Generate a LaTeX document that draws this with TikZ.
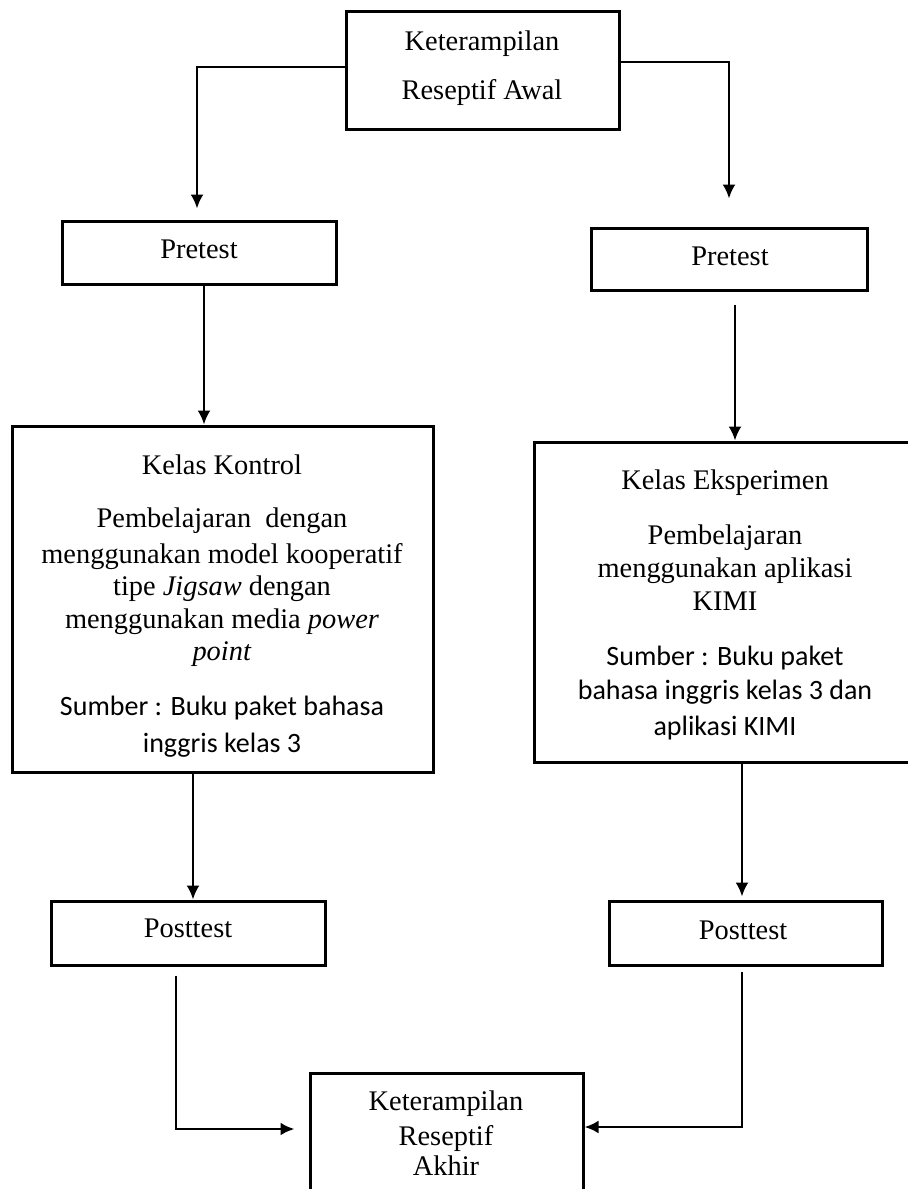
\documentclass[tikz,border=0pt]{standalone}
\usepackage{fontspec}
\setmainfont{Liberation Serif}
\newfontfamily\calibrifont{Carlito}
\usetikzlibrary{arrows.meta}

\tikzset{
  box/.style={draw, line width=1.5pt, inner sep=0pt},
  txt/.style={inner sep=0pt, text height=10pt, text depth=3pt, font=\fontsize{14.2}{17}\selectfont},
  src/.style={txt, font=\calibrifont\fontsize{14}{17}\selectfont},
  arr/.style={-{Latex[length=7pt,width=6.5pt]}, line width=1.2pt},
  arrb/.style={arr, line width=1.4pt},
}

\begin{document}
\begin{tikzpicture}[x=0.5pt, y=-0.5pt]
  \useasboundingbox (0,0) rectangle (907,1189);

  % Top box
  \node[box, minimum width=136.5pt, minimum height=59pt] (awal) at (482.5,70) {};
  \node[txt] (awal1) at (482,43) {Keterampilan};
  \node[txt] (awal2) at (482,92) {Reseptif Awal};

  % Pretest boxes
  \node[box, minimum width=137pt, minimum height=31.5pt] (preL) at (199,252.5) {};
  \node[txt] (preLt) at (199,251) {Pretest};
  \node[box, minimum width=138pt, minimum height=31pt] (preR) at (729,259) {};
  \node[txt] (preRt) at (730,258) {Pretest};

  % Kelas Kontrol
  \node[box, minimum width=210.5pt, minimum height=173pt] (kontrol) at (222.5,599) {};
  \node[txt] (k1) at (222,467) {Kelas Kontrol};
  \node[txt] (k2) at (222,520) {Pembelajaran\ \ dengan};
  \node[txt] (k3) at (222,556) {menggunakan model kooperatif};
  \node[txt] (k4) at (222,588) {tipe \textit{Jigsaw} dengan};
  \node[txt] (k5) at (222,621) {menggunakan media \textit{power}};
  \node[txt] (k6) at (222,653) {\textit{point}};
  \node[src] (k7) at (222,708) {Sumber : Buku paket bahasa};
  \node[src] (k8) at (222,745) {inggris kelas 3};

  % Kelas Eksperimen
  \node[box, minimum width=191pt, minimum height=160pt] (eksp) at (725,602) {};
  \node[txt] (e1) at (725,482) {Kelas Eksperimen};
  \node[txt] (e2) at (725,537) {Pembelajaran};
  \node[txt] (e3) at (725,570) {menggunakan aplikasi};
  \node[txt] (e4) at (725,603) {KIMI};
  \node[src] (e5) at (725,658) {Sumber : Buku paket};
  \node[src] (e6) at (725,692) {bahasa inggris kelas 3 dan};
  \node[src] (e7) at (725,728) {aplikasi KIMI};

  % Posttest boxes
  \node[box, minimum width=137pt, minimum height=32pt] (postL) at (188,933) {};
  \node[txt] (postLt) at (188,930) {Posttest};
  \node[box, minimum width=136.5pt, minimum height=32pt] (postR) at (745.5,933) {};
  \node[txt] (postRt) at (743,932) {Posttest};

  % Bottom box
  \node[box, minimum width=136.5pt, minimum height=73.5pt] (akhir) at (446.5,1146.5) {};
  \node[txt] (a1) at (446,1103) {Keterampilan};
  \node[txt] (a2) at (446,1138) {Reseptif};
  \node[txt] (a3) at (446,1168) {Akhir};

  % arrows
  \draw[arr] ([yshift=1.5pt]awal.west) -| ([xshift=-1pt,yshift=5.5pt]preL.north);
  \draw[arr] ([yshift=4pt]awal.east) -| ([yshift=14pt]preR.north);
  \draw[arr] ([xshift=2.5pt]preL.south) -- ([xshift=2.5pt]preL.south |- kontrol.north);
  \draw[arr] ([xshift=3pt,yshift=-6.5pt]preR.south) -- ([xshift=3pt]preR.south |- eksp.north);
  \draw[arr] ([xshift=2.5pt]postL.north |- kontrol.south) -- ([xshift=2.5pt]postL.north);
  \draw[arr] ([xshift=-1.75pt]postR.north |- eksp.south) -- ([xshift=-1.75pt,yshift=1.5pt]postR.north);
  \draw[arrb] ([xshift=-6pt,yshift=-4.5pt]postL.south) |- ([xshift=-7pt,yshift=8.75pt]akhir.west);
  \draw[arrb] ([xshift=-1.75pt,yshift=-2.5pt]postR.south) |- ([yshift=9.75pt]akhir.east);
\end{tikzpicture}
\end{document}
